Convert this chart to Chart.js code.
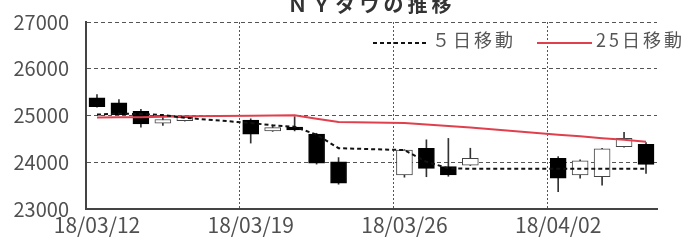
<!DOCTYPE html>
<html lang="ja">
<head>
<meta charset="utf-8">
<title>ＮＹダウの推移</title>
<script src="https://cdn.jsdelivr.net/npm/chart.js@4.4.1/dist/chart.umd.min.js"></script>
<style>
  html, body { margin: 0; padding: 0; background: #fff; }
  #wrap { width: 683px; height: 242px; position: relative; }
</style>
</head>
<body>
<div id="wrap"><canvas id="chart"></canvas></div>
<script>
// ── Data ───────────────────────────────────────────
const dates = [
  '2018-03-12', '2018-03-13', '2018-03-14', '2018-03-15', '2018-03-16',
  '2018-03-19', '2018-03-20', '2018-03-21', '2018-03-22', '2018-03-23',
  '2018-03-26', '2018-03-27', '2018-03-28', '2018-03-29',
  '2018-04-02', '2018-04-03', '2018-04-04', '2018-04-05', '2018-04-06'
];
const open  = [25380, 25270, 25090, 24835, 24890, 24900, 24670, 24750, 24600, 24010, 23730, 24300, 23905, 23940, 24085, 23730, 23690, 24335, 24385];
const high  = [25450, 25340, 25130, 24960, 24990, 24930, 24790, 24975, 24620, 24100, 24270, 24480, 24510, 24300, 24120, 24050, 24300, 24640, 24420];
const low   = [25180, 25010, 24750, 24790, 24880, 24410, 24660, 24670, 23960, 23530, 23680, 23690, 23700, 23930, 23370, 23660, 23510, 24320, 23760];
const close = [25190, 25020, 24820, 24915, 24960, 24600, 24740, 24690, 23980, 23550, 24260, 23870, 23730, 24085, 23660, 24030, 24285, 24510, 23955];
const ma5   = [25020, 25040, 25030, 25010, 24950, 24840, 24790, 24760, 24590, 24300, 24260, 24010, 23870, 23860, 23860, 23860, 23860, 23860, 23860];
const ma25  = [24955, 24960, 24965, 24975, 24985, 24995, 25000, 25005, 24930, 24860, 24840, 24810, 24775, 24745, 24590, 24555, 24515, 24480, 24440];

const xTickLabels = ['18/03/12', '18/03/19', '18/03/26', '18/04/02'];
const yTicks = { min: 23000, max: 27000, step: 1000 };

const titleText = 'ＮＹダウの推移';
const ma5Label  = '５日移動';
const ma25Label = '25日移動';

// ── Helpers ────────────────────────────────────────
const DAY  = 86400000;
const base = Date.parse(dates[0]);
const dayOf = (d) => Math.round((Date.parse(d) - base) / DAY);
const xs = dates.map(d => dayOf(d) + 0.5);               // candle sits in the middle of its day
const tickDays = xTickLabels.map(l => dayOf('20' + l.replace(/\//g, '-')));
const isUp = (i) => close[i] >= open[i];

const FONT = '"Noto Sans CJK JP", "Noto Sans", sans-serif';

// ── Plugins: cut-off title and legend inside plot ──
const titlePlugin = {
  id: 'topTitle',
  afterDraw(chart, args, opts) {
    const { ctx, chartArea } = chart;
    ctx.save();
    ctx.font = opts.font;
    ctx.fillStyle = opts.color;
    ctx.letterSpacing = opts.spacing;
    ctx.textAlign = 'center';
    ctx.textBaseline = 'alphabetic';
    ctx.fillText(opts.text, (chartArea.left + chartArea.right) / 2, chartArea.top - opts.gap);
    ctx.restore();
  }
};

const legendPlugin = {
  id: 'insideLegend',
  afterDatasetsDraw(chart, args, opts) {
    const { ctx } = chart;
    ctx.save();
    ctx.font = opts.font;
    ctx.textBaseline = 'middle';
    let x = opts.x;
    chart.data.datasets.filter(ds => ds.type === 'line').forEach(ds => {
      ctx.strokeStyle = ds.borderColor;
      ctx.lineWidth = ds.borderWidth;
      ctx.setLineDash(ds.borderDash || []);
      ctx.beginPath();
      ctx.moveTo(x, opts.lineY);
      ctx.lineTo(x + opts.sample, opts.lineY);
      ctx.stroke();
      ctx.setLineDash([]);
      x += opts.sample + opts.gap;
      ctx.fillStyle = opts.color;
      ctx.letterSpacing = opts.spacing;
      ctx.fillText(ds.label, x, opts.textY);
      x += ctx.measureText(ds.label).width + opts.itemGap;
    });
    ctx.restore();
  }
};

// ── Chart ──────────────────────────────────────────
new Chart(document.getElementById('chart'), {
  type: 'bar',
  data: {
    datasets: [
      {
        type: 'line',
        label: ma5Label,
        data: xs.map((x, i) => ({ x, y: ma5[i] })),
        borderColor: '#111',
        borderWidth: 2,
        borderDash: [4, 3],
        pointRadius: 0,
        tension: 0,
        order: 0
      },
      {
        type: 'line',
        label: ma25Label,
        data: xs.map((x, i) => ({ x, y: ma25[i] })),
        borderColor: '#e0404e',
        borderWidth: 2,
        pointRadius: 0,
        tension: 0,
        order: 0
      },
      {
        label: 'body',
        data: xs.map((x, i) => ({ x, y: [open[i], close[i]] })),
        backgroundColor: ctx => isUp(ctx.dataIndex) ? '#fff' : '#000',
        borderColor: ctx => isUp(ctx.dataIndex) ? '#444' : '#000',
        borderWidth: 1,
        borderSkipped: false,
        barThickness: 16,
        grouped: false,
        order: 1
      },
      {
        label: 'wick',
        data: xs.map((x, i) => ({ x, y: [low[i], high[i]] })),
        backgroundColor: '#333',
        borderWidth: 0,
        barThickness: 1,
        grouped: false,
        order: 2
      }
    ]
  },
  options: {
    responsive: true,
    maintainAspectRatio: false,
    animation: false,
    layout: { padding: { top: 22, right: 26, left: 0, bottom: 0 } },
    plugins: {
      legend: { display: false },
      tooltip: { enabled: false },
      title: { display: false },
      topTitle: {
        text: titleText,
        font: 'bold 20px ' + FONT,
        color: '#333',
        spacing: '4px',
        gap: 10
      },
      insideLegend: {
        font: '18px ' + FONT,
        color: '#555',
        spacing: '3px',
        x: 373,
        lineY: 43,
        textY: 40,
        sample: 55,
        gap: 4,
        itemGap: 21
      }
    },
    scales: {
      x: {
        type: 'linear',
        min: 0,
        max: dayOf(dates[dates.length - 1]) + 1,
        offset: false,
        afterBuildTicks: (scale) => { scale.ticks = tickDays.map(v => ({ value: v })); },
        afterFit: (scale) => { scale.height = 33; scale.paddingLeft = 0; scale.paddingRight = 0; },
        grid: { color: '#555', lineWidth: 1, drawTicks: false, offset: false },
        border: { display: true, color: '#444', width: 2, dash: [2, 2] },
        ticks: {
          color: '#505050',
          font: { family: FONT, size: 21 },
          padding: 3,
          labelOffset: 11,
          maxRotation: 0,
          autoSkip: false,
          callback: (v, i) => xTickLabels[i]
        }
      },
      y: {
        min: yTicks.min,
        max: yTicks.max,
        afterFit: (scale) => { scale.width = 86; scale.paddingTop = 0; scale.paddingBottom = 0; },
        grid: { color: '#555', lineWidth: 1, drawTicks: false },
        border: { display: true, color: '#444', width: 2, dash: [4, 3] },
        ticks: {
          stepSize: yTicks.step,
          color: '#505050',
          font: { family: FONT, size: 20 },
          padding: 17,
          callback: (v) => String(v)
        }
      }
    }
  },
  plugins: [titlePlugin, legendPlugin]
});
</script>
</body>
</html>
